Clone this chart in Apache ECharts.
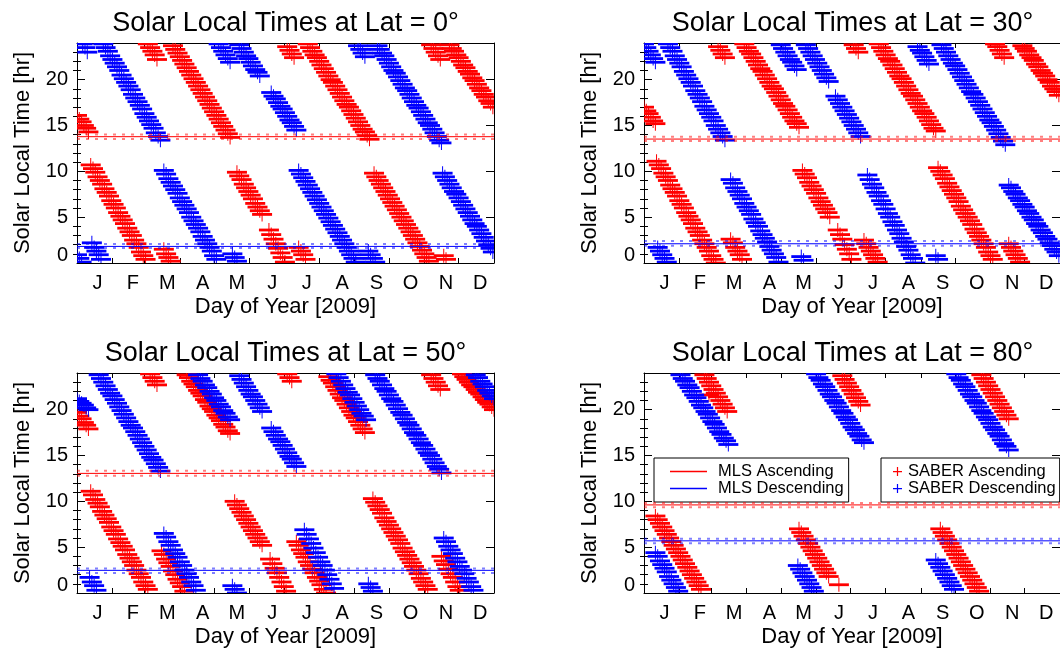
<!DOCTYPE html>
<html>
<head>
<meta charset="utf-8">
<script src="https://cdn.jsdelivr.net/npm/echarts@6/dist/echarts.min.js"></script>
<style>
  html, body { margin: 0; padding: 0; background: #fff; }
  #chart { width: 1060px; height: 652px; }
</style>
</head>
<body>
<div id="chart"></div>
<script>
// ---- Axis definitions ----
const DAY_MIN = 0, DAY_MAX = 365;
const HOUR_MIN = 0, HOUR_MAX = 24;
const monthLetters = ['J', 'F', 'M', 'A', 'M', 'J', 'J', 'A', 'S', 'O', 'N', 'D'];
const monthLabelDays = [18, 49, 79, 110, 140, 171, 201, 232, 262, 292, 323, 353];
const monthStartDays = [31, 59, 90, 120, 151, 181, 212, 243, 273, 304, 334];
const hourMajorTicks = [0, 5, 10, 15, 20];
const hourMinorTicks = [1, 2, 3, 4, 6, 7, 8, 9, 11, 12, 13, 14, 16, 17, 18, 19, 21, 22, 23];

const latitudes = [0, 30, 50, 80];

// ---- MLS mean local time and spread per latitude [hr] ----
const mlsAscending     = [13.78, 13.52, 13.05, 9.61];
const mlsAscendingHigh = [14.03, 13.78, 13.34, 9.83];
const mlsAscendingLow  = [13.52, 13.31, 12.80, 9.35];
const mlsDescending     = [1.81, 2.10, 2.47, 5.69];
const mlsDescendingHigh = [2.07, 2.39, 2.68, 5.91];
const mlsDescendingLow  = [1.63, 1.89, 2.18, 5.44];

// ---- SABER local times: [first day, hours sampled every DAY_STEP days] ----
const DAY_STEP = 2;

const lat0Ascending = [
  [0, [16.1, 15.7, 15.4, 15.0, 14.7, 14.3]],
  [12, [10.7, 10.3, 9.9, 9.4, 9.0, 8.6, 8.1, 7.7, 7.3, 6.8, 6.4, 6.0, 5.5, 5.1, 4.7, 4.3, 3.8, 3.4, 3.0, 2.5, 2.1, 1.7, 1.2, 0.8, 0.4]],
  [62, [23.9, 23.5, 23.1, 22.7, 22.2]],
  [76, [1.5, 1.0, 0.6, 0.2]],
  [84, [23.7, 23.3, 22.9, 22.5, 22.1, 21.7, 21.3, 20.9, 20.5, 20.1, 19.7, 19.3, 18.9, 18.5, 18.1, 17.7, 17.3, 16.9, 16.5, 16.1, 15.7, 15.3, 14.9, 14.5, 14.1, 13.7]],
  [140, [9.9, 9.5, 9.1, 8.6, 8.2, 7.8, 7.4, 7.0, 6.5, 6.1, 5.7, 5.3]],
  [168, [3.6, 3.1, 2.6, 2.1, 1.6, 1.1, 0.6, 0.1]],
  [184, [23.6, 23.2, 22.8, 22.4]],
  [194, [1.7, 1.3, 0.9, 0.4]],
  [202, [23.9, 23.5, 23.1, 22.7, 22.4, 22.0, 21.6, 21.2, 20.8, 20.4, 20.0, 19.7, 19.3, 18.9, 18.5, 18.1, 17.7, 17.3, 17.0, 16.6, 16.2, 15.8, 15.4, 15.0, 14.6, 14.3, 13.9, 13.5]],
  [260, [9.8, 9.4, 9.0, 8.6, 8.2, 7.8, 7.4, 7.0, 6.6, 6.2, 5.8, 5.4, 5.0, 4.6, 4.2, 3.8, 3.4, 3.0, 2.6, 2.2, 1.8, 1.4, 1.0, 0.6, 0.2]],
  [310, [23.8, 23.4, 23.0, 22.6, 22.2]],
  [321, [0.8, 0.4]],
  [326, [23.8, 23.4, 23.1, 22.7, 22.4, 22.0, 21.6, 21.3, 20.9, 20.6, 20.2, 19.9, 19.5, 19.1, 18.8, 18.4, 18.1, 17.7, 17.4, 17.0]]
];
const lat0Descending = [
  [0, [0.9, 0.5, 0.1]],
  [5, [23.9, 23.5, 23.0]],
  [13, [2.2, 1.7, 1.3, 0.9, 0.4]],
  [23, [23.9, 23.5, 23.1, 22.6, 22.2, 21.8, 21.4, 21.0, 20.5, 20.1, 19.7, 19.3, 18.9, 18.4, 18.0, 17.6, 17.2, 16.8, 16.3, 15.9, 15.5, 15.1, 14.7, 14.2, 13.8, 13.4]],
  [76, [10.1, 9.7, 9.2, 8.8, 8.4, 8.0, 7.6, 7.1, 6.7, 6.3, 5.9, 5.5, 5.0, 4.6, 4.2, 3.8, 3.4, 2.9, 2.5, 2.1, 1.7, 1.3, 0.8, 0.4]],
  [124, [23.9, 23.5, 23.1, 22.7, 22.3, 21.9]],
  [136, [1.0, 0.6, 0.2]],
  [142, [23.8, 23.4, 23.0, 22.6, 22.3, 21.9, 21.5, 21.1, 20.8, 20.4]],
  [170, [18.6, 18.2, 17.9, 17.5, 17.1, 16.8, 16.4, 16.0, 15.6, 15.3, 14.9, 14.5]],
  [194, [10.1, 9.7, 9.3, 8.9, 8.5, 8.1, 7.7, 7.3, 6.9, 6.5, 6.1, 5.7, 5.3, 4.9, 4.5, 4.1, 3.7, 3.3, 2.9, 2.5, 2.1, 1.7, 1.3, 0.9, 0.5, 0.1]],
  [246, [23.7, 23.3, 22.9, 22.5]],
  [255, [1.3, 0.9, 0.5, 0.1]],
  [263, [23.7, 23.3, 22.9, 22.6, 22.2, 21.8, 21.4, 21.0, 20.7, 20.3, 19.9, 19.5, 19.1, 18.8, 18.4, 18.0, 17.6, 17.2, 16.9, 16.5, 16.1, 15.7, 15.3, 15.0, 14.6, 14.2, 13.8, 13.4, 13.1]],
  [320, [9.8, 9.4, 9.0, 8.6, 8.2, 7.8, 7.5, 7.1, 6.7, 6.3, 5.9, 5.5, 5.1, 4.7, 4.3, 4.0, 3.6, 3.2, 2.8, 2.4, 2.0, 1.6, 1.2]]
];

const lat30Ascending = [
  [0, [17.0, 16.6, 16.3, 15.9, 15.5, 15.2]],
  [11, [11.1, 10.7, 10.3, 9.8, 9.4, 9.0, 8.5, 8.1, 7.7, 7.3, 6.8, 6.4, 6.0, 5.5, 5.1, 4.7, 4.3, 3.8, 3.4, 3.0, 2.5, 2.1, 1.7, 1.3, 0.8, 0.4, 0.0]],
  [65, [23.6, 23.2, 22.8, 22.4]],
  [76, [2.6, 2.2, 1.7, 1.3, 0.9, 0.4]],
  [88, [23.9, 23.5, 23.1, 22.8, 22.4, 22.0, 21.6, 21.2, 20.9, 20.5, 20.1, 19.7, 19.3, 19.0, 18.6, 18.2, 17.8, 17.4, 17.1, 16.7, 16.3, 15.9, 15.5, 15.2, 14.8]],
  [139, [10.1, 9.7, 9.3, 8.8, 8.4, 8.0, 7.6, 7.1, 6.7, 6.3, 5.9, 5.5, 5.0]],
  [170, [3.6, 3.1, 2.6, 2.0, 1.5, 1.0, 0.4]],
  [184, [23.8, 23.4, 23.0]],
  [193, [2.5, 2.1, 1.7, 1.3, 0.9, 0.5, 0.1]],
  [206, [23.9, 23.5, 23.1, 22.7, 22.3, 22.0, 21.6, 21.2, 20.8, 20.4, 20.1, 19.7, 19.3, 18.9, 18.5, 18.2, 17.8, 17.4, 17.0, 16.6, 16.3, 15.9, 15.5, 15.1, 14.7, 14.4]],
  [258, [10.4, 10.0, 9.6, 9.2, 8.7, 8.3, 7.9, 7.5, 7.1, 6.7, 6.2, 5.8, 5.4, 5.0, 4.6, 4.2, 3.7, 3.3, 2.9, 2.5, 2.1, 1.7, 1.2, 0.8, 0.4]],
  [308, [23.9, 23.6, 23.2, 22.8, 22.4]],
  [320, [2.1, 1.7, 1.3, 0.9, 0.5, 0.1]],
  [332, [23.7, 23.4, 23.1, 22.7, 22.4, 22.1, 21.7, 21.4, 21.0, 20.7, 20.4, 20.0, 19.7, 19.3, 19.0, 18.7, 18.3]]
];
const lat30Descending = [
  [0, [23.9, 23.5, 23.1, 22.7, 22.3, 21.9]],
  [12, [1.7, 1.3, 0.9, 0.5, 0.1]],
  [21, [23.9, 23.5, 23.1, 22.6, 22.2, 21.8, 21.4, 20.9, 20.5, 20.1, 19.7, 19.3, 18.8, 18.4, 18.0, 17.6, 17.1, 16.7, 16.3, 15.9, 15.5, 15.0, 14.6, 14.2, 13.8, 13.4]],
  [76, [9.1, 8.7, 8.2, 7.8, 7.4, 7.0, 6.5, 6.1, 5.7, 5.3, 4.8, 4.4, 4.0, 3.5, 3.1, 2.7, 2.3, 1.8, 1.4, 1.0, 0.6, 0.1]],
  [120, [23.8, 23.4, 23.0, 22.6, 22.2, 21.9, 21.5, 21.1]],
  [138, [0.7, 0.3]],
  [142, [23.8, 23.4, 23.0, 22.6, 22.2, 21.8, 21.4, 21.0, 20.6, 20.2, 19.8]],
  [168, [18.2, 17.8, 17.4, 17.0, 16.6, 16.2, 15.8, 15.4, 15.0, 14.6, 14.2, 13.8]],
  [196, [9.6, 9.1, 8.6, 8.2, 7.7, 7.3, 6.8, 6.4, 5.9, 5.4, 5.0, 4.5, 4.1, 3.6, 3.2, 2.7, 2.3, 1.8, 1.4, 0.9, 0.5, 0.0]],
  [240, [23.6, 23.2, 22.9, 22.5, 22.1, 21.7]],
  [256, [0.8, 0.4]],
  [261, [23.8, 23.4, 23.0, 22.6, 22.2, 21.8, 21.5, 21.1, 20.7, 20.3, 19.9, 19.5, 19.1, 18.7, 18.4, 18.0, 17.6, 17.2, 16.8, 16.4, 16.0, 15.6, 15.3, 14.9, 14.5, 14.1, 13.7, 13.3, 12.9]],
  [320, [8.5, 8.2, 7.8, 7.5, 7.1, 6.8, 6.4, 6.1, 5.7, 5.4, 5.0, 4.7, 4.3, 4.0, 3.6, 3.3, 2.9, 2.6, 2.2, 1.9, 1.5, 1.2, 0.8]]
];

const lat50Ascending = [
  [0, [19.7, 19.3, 19.0, 18.6, 18.3, 17.9]],
  [12, [11.1, 10.7, 10.2, 9.8, 9.4, 8.9, 8.5, 8.1, 7.7, 7.2, 6.8, 6.4, 5.9, 5.5, 5.1, 4.7, 4.2, 3.8, 3.4, 3.0, 2.5, 2.1, 1.7, 1.2, 0.8, 0.4]],
  [64, [23.9, 23.5, 23.1, 22.7]],
  [74, [4.6, 4.2, 3.7, 3.3, 2.9, 2.4, 2.0, 1.5, 1.1, 0.7, 0.2]],
  [96, [23.8, 23.5, 23.1, 22.8, 22.5, 22.1, 21.8, 21.5, 21.1, 20.8, 20.4, 20.1, 19.8, 19.4, 19.1, 18.8, 18.4, 18.1, 17.7, 17.4]],
  [138, [10.0, 9.6, 9.2, 8.8, 8.4, 8.0, 7.6, 7.2, 6.8, 6.4, 6.0, 5.6, 5.2]],
  [169, [3.7, 3.2, 2.7, 2.2, 1.7, 1.2, 0.7, 0.2]],
  [184, [23.9, 23.5, 23.1]],
  [192, [5.6, 5.2, 4.7, 4.3, 3.9, 3.4, 3.0, 2.6, 2.2, 1.7, 1.3, 0.9, 0.4, 0.0]],
  [220, [23.6, 23.2, 22.9, 22.5, 22.1, 21.7, 21.3, 21.0, 20.6, 20.2, 19.8, 19.4, 19.1, 18.7, 18.3, 17.9, 17.5]],
  [259, [10.3, 9.9, 9.5, 9.1, 8.7, 8.2, 7.8, 7.4, 7.0, 6.6, 6.2, 5.8, 5.4, 4.9, 4.5, 4.1, 3.7, 3.3, 2.9, 2.5, 2.1, 1.6, 1.2, 0.8, 0.4]],
  [310, [23.8, 23.4, 23.0, 22.6, 22.2]],
  [319, [4.0, 3.5, 3.1, 2.6, 2.1, 1.7, 1.2, 0.7, 0.3]],
  [337, [23.9, 23.6, 23.3, 23.0, 22.7, 22.5, 22.2, 21.9, 21.7, 21.4, 21.1, 20.8, 20.6, 20.3, 20.0]]
];
const lat50Descending = [
  [0, [21.2, 20.9, 20.7, 20.5, 20.2, 20.0]],
  [11, [1.7, 1.2, 0.8, 0.3]],
  [19, [23.8, 23.4, 23.0, 22.6, 22.2, 21.8, 21.5, 21.1, 20.7, 20.3, 19.9, 19.5, 19.1, 18.7, 18.3, 18.0, 17.6, 17.2, 16.8, 16.4, 16.0, 15.6, 15.2, 14.8, 14.5, 14.1, 13.7, 13.3]],
  [76, [6.5, 6.1, 5.6, 5.2, 4.7, 4.3, 3.9, 3.4, 3.0, 2.5, 2.1, 1.7, 1.2, 0.8, 0.3]],
  [106, [23.8, 23.4, 23.1, 22.7, 22.4, 22.0, 21.7, 21.3, 21.0, 20.6, 20.3, 19.9, 19.6, 19.2, 18.9]],
  [136, [0.8, 0.4, 0.0]],
  [142, [23.7, 23.3, 22.9, 22.5, 22.1, 21.7, 21.4, 21.0, 20.6, 20.2, 19.8]],
  [170, [18.0, 17.6, 17.2, 16.8, 16.5, 16.1, 15.7, 15.3, 14.9, 14.6, 14.2, 13.8]],
  [199, [6.9, 6.4, 5.9, 5.4, 4.9, 4.4, 3.9, 3.4, 3.0, 2.5, 2.0, 1.5, 1.0, 0.5]],
  [227, [23.9, 23.5, 23.1, 22.7, 22.3, 21.9, 21.6, 21.2, 20.8, 20.4, 20.0, 19.6, 19.3, 18.9]],
  [255, [1.0, 0.6, 0.2]],
  [261, [23.8, 23.4, 23.1, 22.7, 22.3, 22.0, 21.6, 21.2, 20.9, 20.5, 20.1, 19.7, 19.4, 19.0, 18.6, 18.3, 17.9, 17.5, 17.2, 16.8, 16.4, 16.1, 15.7, 15.3, 15.0, 14.6, 14.2, 13.8, 13.5, 13.1]],
  [321, [6.0, 5.6, 5.1, 4.7, 4.3, 3.8, 3.4, 2.9, 2.5, 2.1, 1.6, 1.2, 0.7, 0.3]],
  [349, [23.8, 23.5, 23.1, 22.8, 22.5, 22.1, 21.8, 21.5, 21.2]]
];

const lat80Ascending = [
  [10, [8.4, 8.0, 7.6, 7.2, 6.8, 6.4, 6.0, 5.6, 5.2, 4.8, 4.4, 4.0, 3.6, 3.2, 2.8, 2.4, 2.0, 1.6, 1.2, 0.8, 0.4]],
  [53, [23.8, 23.4, 23.0, 22.6, 22.2, 21.8, 21.4, 21.0, 20.6, 20.2, 19.8]],
  [57, [21.6]],
  [136, [7.0, 6.6, 6.2, 5.8, 5.4, 5.0, 4.6, 4.2, 3.8, 3.4, 3.0, 2.6, 2.2, 1.8]],
  [171, [0.9]],
  [174, [23.7, 23.3, 22.9, 22.5, 22.1, 21.7, 21.3, 20.9, 20.5]],
  [260, [7.0, 6.6, 6.2, 5.8, 5.4, 5.0, 4.6, 4.2, 3.8, 3.4, 3.0, 2.6, 2.2, 1.8, 1.4, 1.0, 0.6, 0.2]],
  [296, [23.8, 23.4, 23.0, 22.6, 22.2, 21.8, 21.4, 21.0, 20.6, 20.2, 19.8, 19.4, 19.0]]
];
const lat80Descending = [
  [10, [4.4, 4.0, 3.5, 3.1, 2.7, 2.3, 1.8, 1.4, 1.0, 0.6, 0.2]],
  [32, [23.8, 23.4, 23.1, 22.7, 22.4, 22.0, 21.6, 21.3, 20.9, 20.5, 20.2, 19.8, 19.5, 19.1, 18.7, 18.4, 18.0, 17.6, 17.3, 16.9, 16.6, 16.2]],
  [135, [3.0, 2.6, 2.2, 1.8, 1.4, 1.0, 0.6, 0.2]],
  [151, [23.9, 23.5, 23.2, 22.8, 22.5, 22.1, 21.7, 21.4, 21.0, 20.7, 20.3, 19.9, 19.6, 19.2, 18.9, 18.5, 18.1, 17.8, 17.4, 17.1, 16.7, 16.4]],
  [256, [3.6, 3.2, 2.8, 2.4, 2.0, 1.6, 1.2, 0.8, 0.4]],
  [274, [23.9, 23.5, 23.2, 22.8, 22.5, 22.1, 21.7, 21.4, 21.0, 20.7, 20.3, 19.9, 19.6, 19.2, 18.9, 18.5, 18.1, 17.8, 17.4, 17.1, 16.7, 16.3, 16.0, 15.6]]
];

const saberAscending = [lat0Ascending, lat30Ascending, lat50Ascending, lat80Ascending];
const saberDescending = [lat0Descending, lat30Descending, lat50Descending, lat80Descending];

// ---- Styling ----
const FONT = "'Liberation Sans', Arial, Helvetica, sans-serif";
const RED = '#ff0000';
const BLUE = '#0000ff';
const PLUS_ICON = 'path://M0,4 L9,4 L9,5.2 L0,5.2 Z M3.9,0 L5.1,0 L5.1,9 L3.9,9 Z';
const GRID_W = 417, GRID_H = 220;
const gridOrigins = [[77, 43], [644, 43], [77, 373], [644, 373]];

function toPoints(segments) {
  const pts = [];
  segments.forEach(([firstDay, hours]) => {
    hours.forEach((h, i) => pts.push([firstDay + i * DAY_STEP, h]));
  });
  return pts;
}

// Plus marker: wide horizontal bar, thin vertical bar
function plusRenderer(color) {
  return function (params, api) {
    const p = api.coord([api.value(0), api.value(1)]);
    return {
      type: 'group',
      children: [
        { type: 'rect', shape: { x: p[0] - 10, y: p[1] - 1.4, width: 20, height: 2.8 }, style: { fill: color } },
        { type: 'rect', shape: { x: p[0] - 0.5, y: p[1] - 7, width: 1, height: 14 }, style: { fill: color } }
      ]
    };
  };
}

const black = { color: '#000', width: 1 };
const grids = [], xAxes = [], yAxes = [], series = [], titles = [];

latitudes.forEach((lat, g) => {
  const [left, top] = gridOrigins[g];
  grids.push({ left, top, width: GRID_W, height: GRID_H, containLabel: false });
  titles.push({
    text: 'Solar Local Times at Lat = ' + lat + '\u00b0',
    left: left + GRID_W / 2, top: top - 33, textAlign: 'center', padding: 0,
    textStyle: { fontFamily: FONT, fontSize: 27, fontWeight: 'normal', color: '#000' }
  });

  // bottom x axis with month letters
  xAxes.push({
    gridIndex: g, type: 'value', position: 'bottom', min: DAY_MIN, max: DAY_MAX,
    name: 'Day of Year [2009]', nameLocation: 'middle', nameGap: 33,
    nameTextStyle: { fontFamily: FONT, fontSize: 22, color: '#000' },
    axisLine: { show: true, onZero: false, lineStyle: black },
    axisTick: { show: true, inside: true, length: 5, customValues: monthStartDays, lineStyle: black },
    axisLabel: {
      show: true, customValues: monthLabelDays, margin: 10,
      formatter: v => monthLetters[monthLabelDays.indexOf(v)],
      fontFamily: FONT, fontSize: 20, color: '#000'
    },
    splitLine: { show: false }
  });
  // top x axis (frame + ticks)
  xAxes.push({
    gridIndex: g, type: 'value', position: 'top', min: DAY_MIN, max: DAY_MAX,
    axisLine: { show: true, onZero: false, lineStyle: black },
    axisTick: { show: true, inside: true, length: 5, customValues: monthStartDays, lineStyle: black },
    axisLabel: { show: false }, splitLine: { show: false }
  });

  // left y axis: major ticks + labels
  yAxes.push({
    gridIndex: g, type: 'value', position: 'left', min: HOUR_MIN, max: HOUR_MAX,
    name: 'Solar Local Time [hr]', nameLocation: 'middle', nameGap: 43, nameRotate: 90,
    nameTextStyle: { fontFamily: FONT, fontSize: 22, color: '#000' },
    axisLine: { show: true, onZero: false, lineStyle: black },
    axisTick: { show: true, inside: true, length: 8, customValues: hourMajorTicks, lineStyle: black },
    axisLabel: {
      show: true, customValues: hourMajorTicks, margin: 9,
      formatter: v => (v === 0 ? '{base|0}' : String(v)),
      rich: { base: { padding: [0, 0, 15, 0], fontFamily: FONT, fontSize: 20, color: '#000' } },
      fontFamily: FONT, fontSize: 20, color: '#000'
    },
    splitLine: { show: false }
  });
  // left y axis: hourly minor ticks
  yAxes.push({
    gridIndex: g, type: 'value', position: 'left', min: HOUR_MIN, max: HOUR_MAX,
    axisLine: { show: false },
    axisTick: { show: true, inside: true, length: 4, customValues: hourMinorTicks, lineStyle: black },
    axisLabel: { show: false }, splitLine: { show: false }
  });
  // right y axis: frame + major ticks
  yAxes.push({
    gridIndex: g, type: 'value', position: 'right', min: HOUR_MIN, max: HOUR_MAX,
    axisLine: { show: true, onZero: false, lineStyle: black },
    axisTick: { show: true, inside: true, length: 8, customValues: hourMajorTicks, lineStyle: black },
    axisLabel: { show: false }, splitLine: { show: false }
  });
  // right y axis: minor ticks
  yAxes.push({
    gridIndex: g, type: 'value', position: 'right', min: HOUR_MIN, max: HOUR_MAX,
    axisLine: { show: false },
    axisTick: { show: true, inside: true, length: 4, customValues: hourMinorTicks, lineStyle: black },
    axisLabel: { show: false }, splitLine: { show: false }
  });

  const xi = 2 * g, yi = 4 * g;

  series.push({
    name: 'SABER Ascending', type: 'custom', xAxisIndex: xi, yAxisIndex: yi,
    clip: true, itemStyle: { color: RED }, encode: { x: 0, y: 1 },
    renderItem: plusRenderer(RED), data: toPoints(saberAscending[g]), z: 2
  });
  series.push({
    name: 'SABER Descending', type: 'custom', xAxisIndex: xi, yAxisIndex: yi,
    clip: true, itemStyle: { color: BLUE }, encode: { x: 0, y: 1 },
    renderItem: plusRenderer(BLUE), data: toPoints(saberDescending[g]), z: 3
  });

  const hLine = (name, value, color, dashed) => ({
    name, type: 'line', xAxisIndex: xi, yAxisIndex: yi, symbol: 'none', silent: true, z: 4,
    color,
    lineStyle: dashed
      ? { color, width: 2, type: [3, 6], opacity: 0.5 }
      : { color, width: 1 },
    data: [[DAY_MIN, value], [DAY_MAX, value]]
  });
  series.push(hLine('MLS Ascending', mlsAscending[g], RED, false));
  series.push(hLine('MLS Ascending upper', mlsAscendingHigh[g], RED, true));
  series.push(hLine('MLS Ascending lower', mlsAscendingLow[g], RED, true));
  series.push(hLine('MLS Descending', mlsDescending[g], BLUE, false));
  series.push(hLine('MLS Descending upper', mlsDescendingHigh[g], BLUE, true));
  series.push(hLine('MLS Descending lower', mlsDescendingLow[g], BLUE, true));
});

const legendText = { fontFamily: FONT, fontSize: 16.5, color: '#000' };

const option = {
  animation: false,
  backgroundColor: '#fff',
  title: titles,
  grid: grids,
  xAxis: xAxes,
  yAxis: yAxes,
  legend: [
    {
      data: [
        { name: 'MLS Ascending', icon: 'rect', itemStyle: { color: RED, borderWidth: 0 } },
        { name: 'MLS Descending', icon: 'rect', itemStyle: { color: BLUE, borderWidth: 0 } }
      ],
      orient: 'vertical', left: 654, top: 458, padding: [5, 5, 5, 16], itemGap: 0,
      itemWidth: 37, itemHeight: 1.3, selectedMode: false,
      borderColor: '#000', borderWidth: 1, backgroundColor: '#fff',
      textStyle: Object.assign({ padding: [0, 0, 0, 6] }, legendText)
    },
    {
      data: [
        { name: 'SABER Ascending', icon: PLUS_ICON, itemStyle: { color: RED, borderWidth: 0 } },
        { name: 'SABER Descending', icon: PLUS_ICON, itemStyle: { color: BLUE, borderWidth: 0 } }
      ],
      orient: 'vertical', left: 881, top: 458, padding: [5, 4, 5, 12], itemGap: 0,
      itemWidth: 9, itemHeight: 9, selectedMode: false,
      borderColor: '#000', borderWidth: 1, backgroundColor: '#fff',
      textStyle: Object.assign({ padding: [0, 0, 0, 1] }, legendText)
    }
  ],
  series
};

const chart = echarts.init(document.getElementById('chart'), null, { renderer: 'canvas' });
chart.setOption(option);
</script>
</body>
</html>
